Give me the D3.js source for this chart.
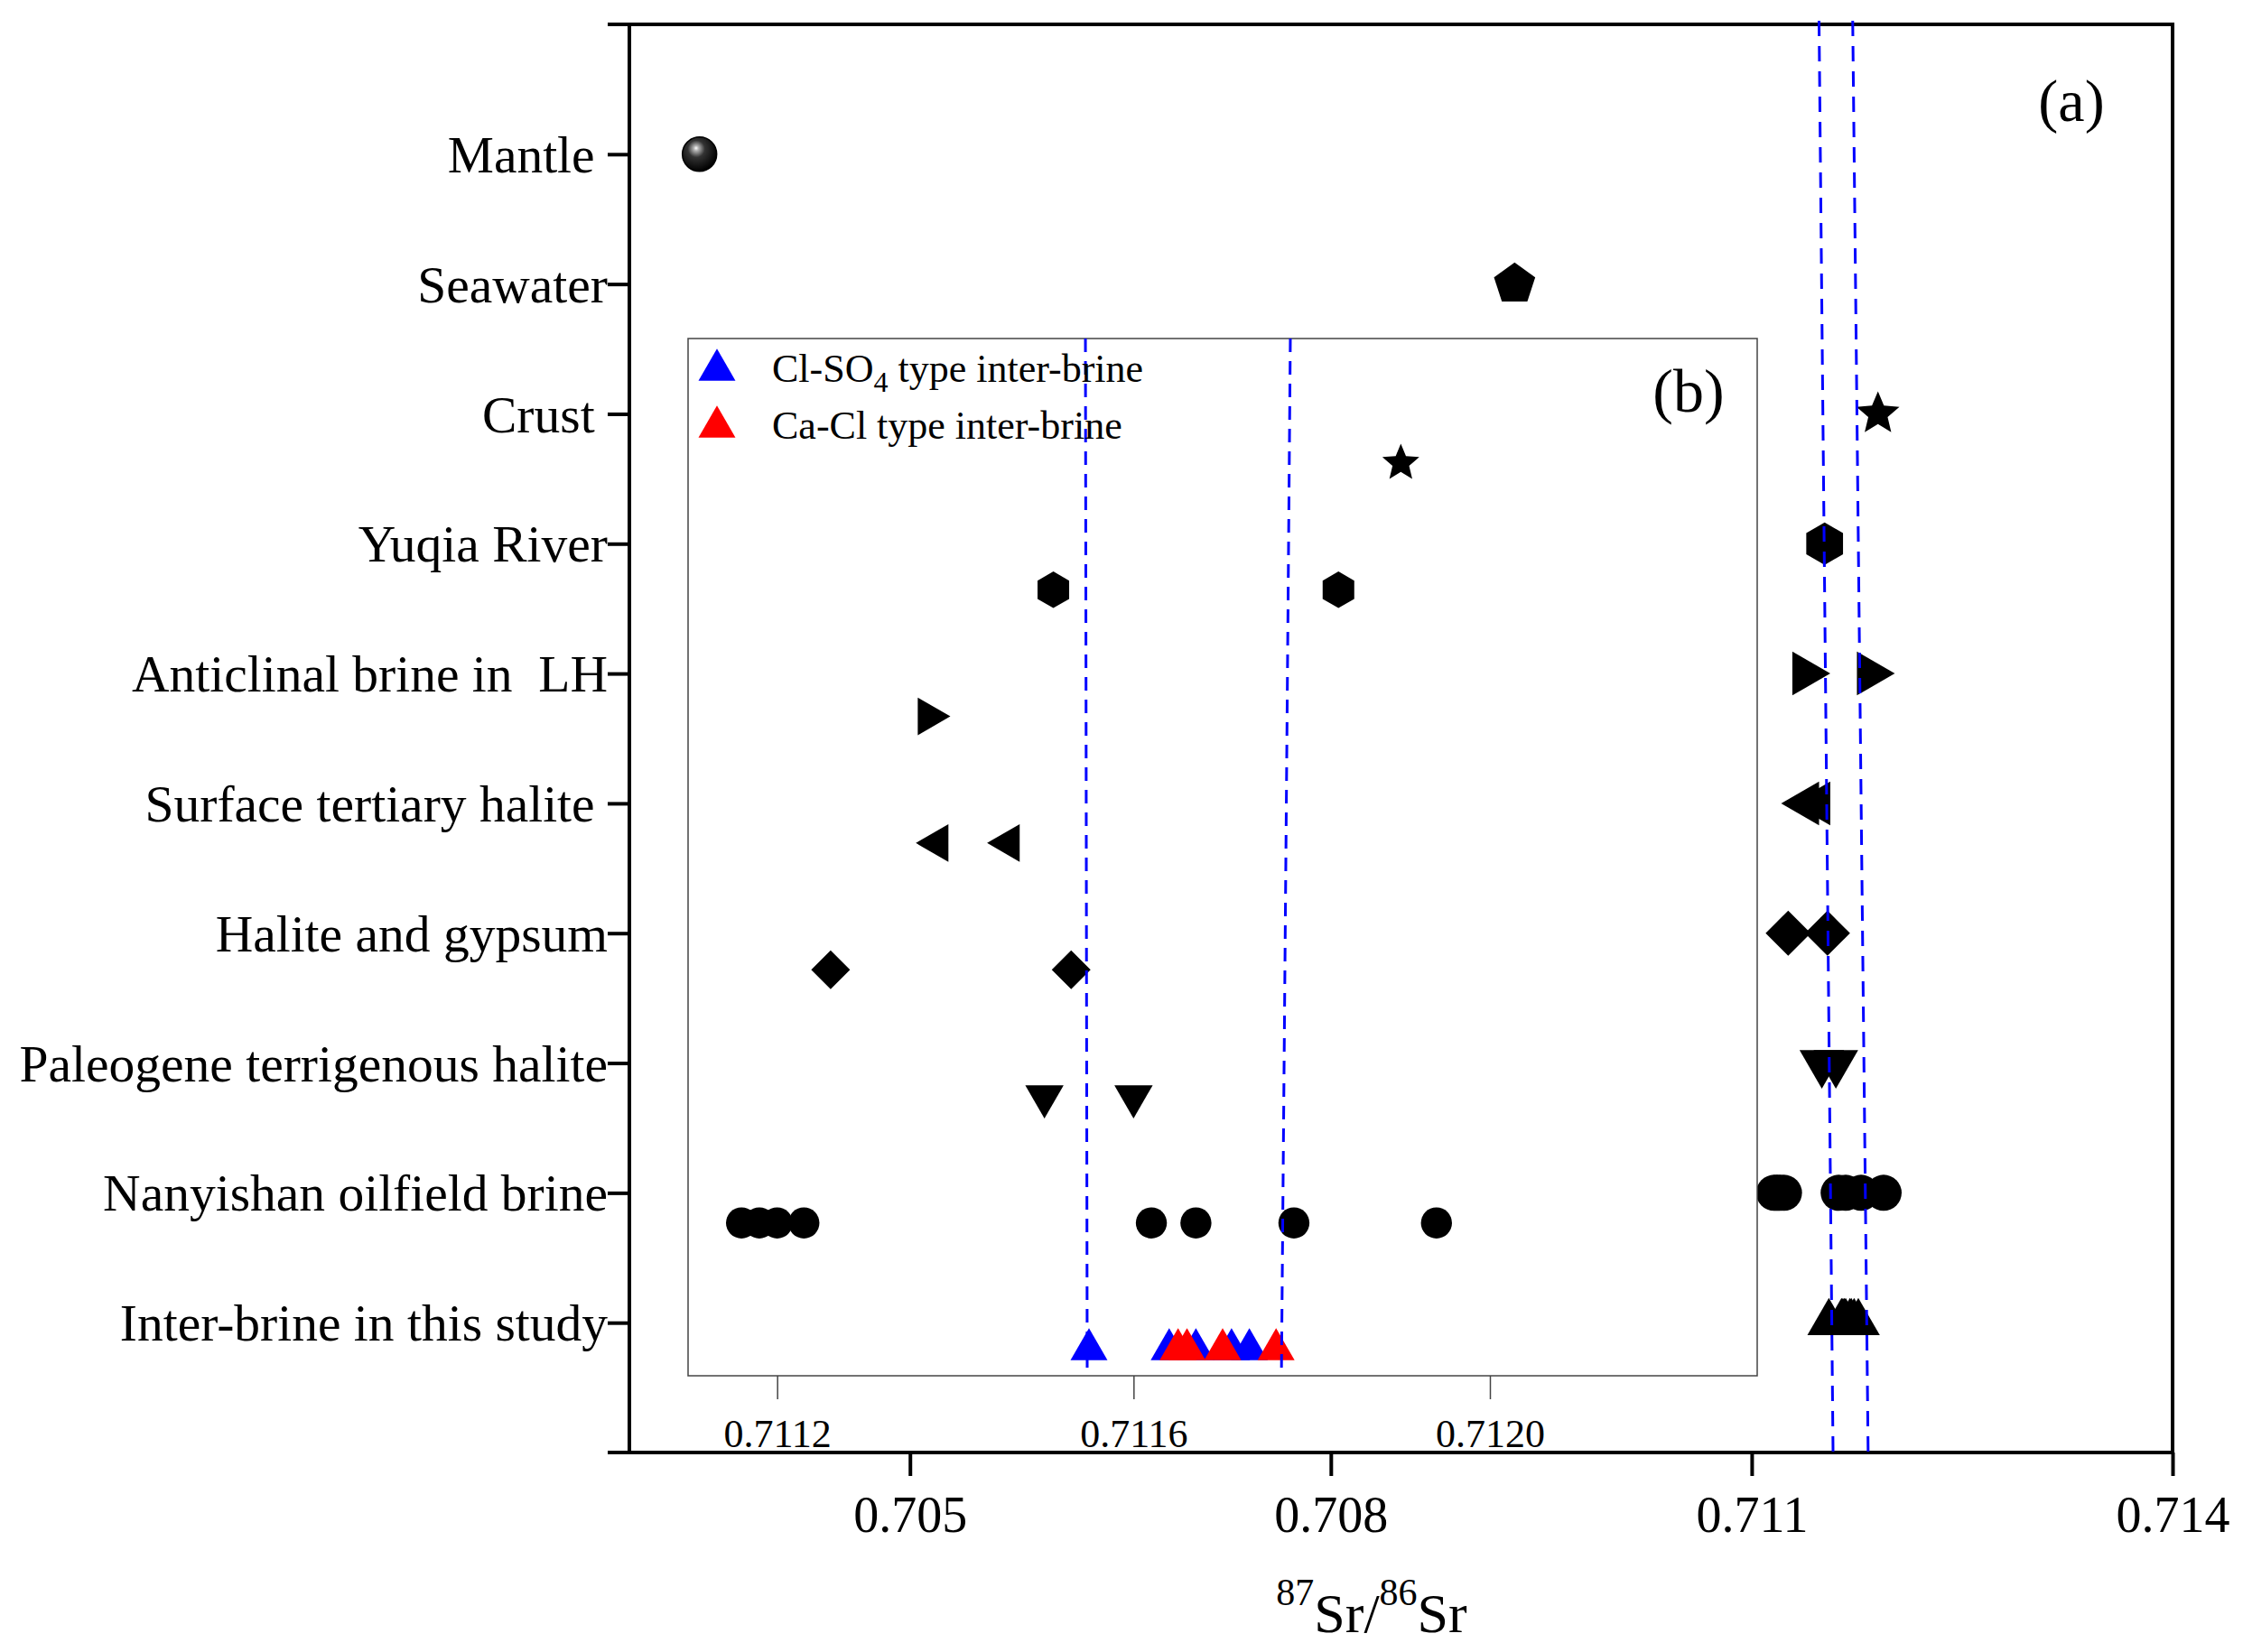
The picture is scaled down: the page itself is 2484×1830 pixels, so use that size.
<!DOCTYPE html>
<html>
<head>
<meta charset="utf-8">
<script src="https://cdn.jsdelivr.net/npm/d3@7"></script>
<style>
  body { margin: 0; background: #fff; }
  svg { display: block; font-family: "Liberation Serif", "Times New Roman", serif; }
  .cat-label { white-space: pre; }
</style>
</head>
<body>
<svg class="chart" width="2484" height="1830"></svg>
<script>
// categories top to bottom (trailing spaces kept as in the figure)
const categories = [
  "Mantle ", "Seawater", "Crust ", "Yuqia River", "Anticlinal brine in  LH",
  "Surface tertiary halite ", "Halite and gypsum", "Paleogene terrigenous halite",
  "Nanyishan oilfield brine", "Inter-brine in this study"
];
const markers = ["sphere", "pentagon", "star", "hexagon", "triRight",
                 "triLeft", "diamond", "triDown", "circle", "triUp"];

// 87Sr/86Sr values, panel (a)
const mainValues = [
  [0.7035],
  [0.70931],
  [0.7119],
  [0.71152],
  [0.71138, 0.71184],
  [0.71139, 0.71147],
  [0.71126, 0.71154],
  [0.71150, 0.71160],
  [0.71116, 0.71118, 0.71120, 0.71123, 0.71162, 0.71167, 0.71178, 0.71194],
  []
];
// values, panel (b) zoom
const insetValues = [
  [],
  [],
  [0.7119],
  [0.71151, 0.71183],
  [0.71137],
  [0.71138, 0.71146],
  [0.71126, 0.71153],
  [0.71150, 0.71160],
  [0.71116, 0.71118, 0.71120, 0.71123, 0.71162, 0.71167, 0.71178, 0.71194],
  []
];
// inter-brine samples of this study
const clSO4Brine = [0.71155, 0.71164, 0.71167, 0.71171, 0.71173];
const caClBrine = [0.71165, 0.71166, 0.71170, 0.71176];

// dashed range lines [value at top, value at bottom]
const mainRangeLines = [[0.71148, 0.71158], [0.71172, 0.71183]];
const insetRangeLines = [[0.711546, 0.711548], [0.711776, 0.711766]];

const mainTicks = [0.705, 0.708, 0.711, 0.714];
const insetTicks = [0.7112, 0.7116, 0.7120];
const legendItems = [
  { name: "Cl-SO", sub: "4", rest: " type inter-brine", color: "#0000ff" },
  { name: "Ca-Cl", sub: "", rest: " type inter-brine", color: "#ff0000" }
];

const frame = { left: 697, right: 2406, top: 27, bottom: 1609 };
const inset = { left: 762, right: 1946, top: 375, bottom: 1524 };

const svg = d3.select("svg.chart");

const x = d3.scaleLinear().domain([0.703, 0.714]).range([frame.left, frame.right]);
const y = d3.scalePoint().domain(categories).range([frame.top, frame.bottom]).padding(1);
const xIn = d3.scaleLinear().domain([0.7111, 0.7123]).range([inset.left, inset.right]);
const yIn = d3.scalePoint().domain(categories.slice(2)).range([inset.top + 138, inset.bottom - 29]);

const mainSize = { sphere: 19, pentagon: 24, star: 25, hexagon: 23.5, triRight: 28,
                   triLeft: 28, diamond: 25, triDown: 28.5, circle: 20, triUp: 27.5 };
const insetFactor = 0.86;

function markerPath(type, r) {
  const poly = (n, rot) => "M" + d3.range(n).map(i => {
    const a = rot + i * 2 * Math.PI / n;
    return [r * Math.cos(a), r * Math.sin(a)];
  }).join("L") + "Z";
  const deg = Math.PI / 180;
  switch (type) {
    case "pentagon": return poly(5, -90 * deg);
    case "hexagon": return poly(6, -90 * deg);
    case "triUp": return poly(3, -90 * deg);
    case "triDown": return poly(3, 90 * deg);
    case "triRight": return poly(3, 0);
    case "triLeft": return poly(3, 180 * deg);
    case "diamond": return poly(4, -90 * deg);
    case "star":
      return "M" + d3.range(10).map(i => {
        const a = -90 * deg + i * 36 * deg;
        const rr = i % 2 ? r * 0.45 : r;
        return [rr * Math.cos(a), rr * Math.sin(a)];
      }).join("L") + "Z";
    default:
      return d3.symbol(d3.symbolCircle, Math.PI * r * r)();
  }
}

// sphere gradient for the mantle marker
const grad = svg.append("defs").append("radialGradient")
  .attr("id", "sphere").attr("cx", 0.42).attr("cy", 0.38).attr("r", 0.62)
  .attr("fx", 0.4).attr("fy", 0.32);
grad.selectAll("stop")
  .data([["0%", "#ffffff"], ["12%", "#b0b0b0"], ["40%", "#333333"], ["100%", "#000000"]])
  .join("stop")
  .attr("offset", d => d[0])
  .attr("stop-color", d => d[1]);

svg.append("rect").attr("width", 2484).attr("height", 1830).attr("fill", "#fff");

// ---- panel (a) frame
const frameG = svg.append("g").attr("stroke", "#000").attr("stroke-width", 4).attr("fill", "none");
frameG.append("line").attr("x1", frame.left - 24).attr("x2", frame.right + 2)
  .attr("y1", frame.top).attr("y2", frame.top);
frameG.append("line").attr("x1", frame.left - 24).attr("x2", frame.right + 2)
  .attr("y1", frame.bottom).attr("y2", frame.bottom);
frameG.append("line").attr("x1", frame.left).attr("x2", frame.left)
  .attr("y1", frame.top).attr("y2", frame.bottom);
frameG.append("line").attr("x1", frame.right).attr("x2", frame.right)
  .attr("y1", frame.top).attr("y2", frame.bottom);

const xAxis = svg.append("g")
  .attr("transform", `translate(0,${frame.bottom})`)
  .call(d3.axisBottom(x).tickValues(mainTicks).tickFormat(d3.format(".3f"))
    .tickSize(26).tickSizeOuter(0).tickPadding(22));
xAxis.select(".domain").remove();
xAxis.selectAll("line").attr("stroke", "#000").attr("stroke-width", 4);
xAxis.selectAll("text").attr("font-size", 56).attr("font-family", "Liberation Serif").attr("fill", "#000");

const yAxis = svg.append("g")
  .attr("transform", `translate(${frame.left},0)`)
  .call(d3.axisLeft(y).tickSize(24).tickSizeOuter(0).tickPadding(0));
yAxis.select(".domain").remove();
yAxis.selectAll("line").attr("stroke", "#000").attr("stroke-width", 4);
yAxis.selectAll("text")
  .attr("class", "cat-label")
  .attr("font-size", 57.5).attr("font-family", "Liberation Serif").attr("fill", "#000")
  .attr("dy", "0.34em");

// axis title
const title = svg.append("text")
  .attr("x", 1519).attr("y", 1808)
  .attr("text-anchor", "middle").attr("font-size", 62).attr("fill", "#000");
title.append("tspan").attr("font-size", 42).attr("dy", -30).text("87");
title.append("tspan").attr("dy", 30).text("Sr/");
title.append("tspan").attr("font-size", 42).attr("dy", -30).text("86");
title.append("tspan").attr("dy", 30).text("Sr");

svg.append("text").attr("x", 2294).attr("y", 134)
  .attr("text-anchor", "middle").attr("font-size", 66).text("(a)");

// ---- panel (a) markers
const mainPoints = [];
categories.forEach((c, i) => mainValues[i].forEach(v => mainPoints.push({ c, v, type: markers[i] })));
clSO4Brine.concat(caClBrine).forEach(v => mainPoints.push({ c: categories[9], v, type: "triUp" }));

svg.append("g").selectAll("path")
  .data(mainPoints)
  .join("path")
  .attr("transform", d => `translate(${x(d.v)},${y(d.c)})`)
  .attr("d", d => markerPath(d.type, mainSize[d.type]))
  .attr("fill", d => d.type === "sphere" ? "url(#sphere)" : "#000")
  .attr("stroke", d => d.type === "sphere" ? "#000" : "none")
  .attr("stroke-width", 1.5);

svg.append("g").selectAll("line")
  .data(mainRangeLines)
  .join("line")
  .attr("x1", d => x(d[0])).attr("y1", frame.top - 4)
  .attr("x2", d => x(d[1])).attr("y2", frame.bottom)
  .attr("stroke", "#0000ff").attr("stroke-width", 3)
  .attr("stroke-dasharray", "17,11");

// ---- panel (b) inset
const insetG = svg.append("g");
insetG.append("rect")
  .attr("x", inset.left).attr("y", inset.top)
  .attr("width", inset.right - inset.left).attr("height", inset.bottom - inset.top)
  .attr("fill", "#fff").attr("stroke", "#444").attr("stroke-width", 1.5);

const inAxis = insetG.append("g")
  .attr("transform", `translate(0,${inset.bottom})`)
  .call(d3.axisBottom(xIn).tickValues(insetTicks).tickFormat(d3.format(".4f"))
    .tickSize(26).tickSizeOuter(0).tickPadding(22));
inAxis.select(".domain").remove();
inAxis.selectAll("line").attr("stroke", "#444").attr("stroke-width", 1.5);
inAxis.selectAll("text").attr("font-size", 44).attr("font-family", "Liberation Serif").attr("fill", "#000");

const insetPoints = [];
categories.forEach((c, i) => insetValues[i].forEach(v => insetPoints.push({ c, v, type: markers[i], color: "#000" })));
clSO4Brine.forEach(v => insetPoints.push({ c: categories[9], v, type: "triUp", color: "#0000ff" }));
caClBrine.forEach(v => insetPoints.push({ c: categories[9], v, type: "triUp", color: "#ff0000" }));

insetG.append("g").selectAll("path")
  .data(insetPoints)
  .join("path")
  .attr("transform", d => `translate(${xIn(d.v)},${yIn(d.c)})`)
  .attr("d", d => markerPath(d.type, mainSize[d.type] * insetFactor))
  .attr("fill", d => d.color);

insetG.append("g").selectAll("line")
  .data(insetRangeLines)
  .join("line")
  .attr("x1", d => xIn(d[0])).attr("y1", inset.top)
  .attr("x2", d => xIn(d[1])).attr("y2", inset.bottom - 2)
  .attr("stroke", "#0000ff").attr("stroke-width", 3)
  .attr("stroke-dasharray", "15,10");

// legend
const legend = insetG.append("g").attr("transform", `translate(${inset.left + 32},${inset.top + 35})`);
const item = legend.selectAll("g")
  .data(legendItems)
  .join("g")
  .attr("transform", (d, i) => `translate(0,${i * 63})`);
item.append("path")
  .attr("d", markerPath("triUp", mainSize.triUp * insetFactor))
  .attr("fill", d => d.color);
const label = item.append("text")
  .attr("x", 61).attr("y", 13)
  .attr("font-size", 44).attr("fill", "#000");
label.append("tspan").text(d => d.name);
label.filter(d => d.sub).append("tspan").attr("font-size", 32).attr("dy", 11).text(d => d.sub);
label.append("tspan").attr("dy", d => d.sub ? -11 : 0).text(d => d.rest);

insetG.append("text").attr("x", 1870).attr("y", 456)
  .attr("text-anchor", "middle").attr("font-size", 68).text("(b)");
</script>
</body>
</html>
